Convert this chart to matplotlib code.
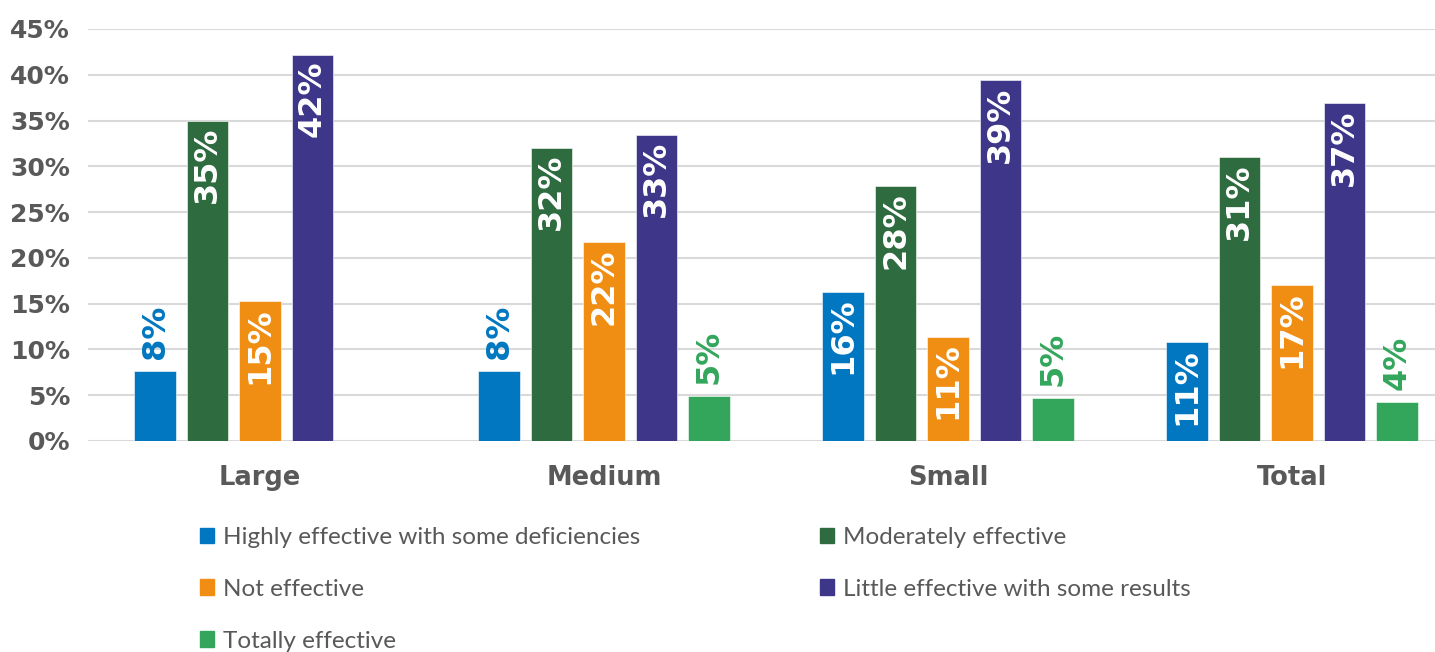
import matplotlib.pyplot as plt
import numpy as np
from matplotlib.patches import Patch

# --- Data ---
categories = ["Large", "Medium", "Small", "Total"]
series = [
    "Highly effective with some deficiencies",
    "Moderately effective",
    "Not effective",
    "Little effective with some results",
    "Totally effective",
]
highly = [7.7, 7.7, 16.3, 10.8]
moderately = [35.0, 32.0, 27.8, 31.0]
not_eff = [15.3, 21.7, 11.4, 17.0]
little = [42.2, 33.4, 39.4, 36.9]
totally = [0.0, 4.9, 4.7, 4.3]
yticks = [0, 5, 10, 15, 20, 25, 30, 35, 40, 45]

colors = ["#0077C0", "#2E6B3F", "#F08E13", "#3D3689", "#33A65C"]
values = [highly, moderately, not_eff, little, totally]

GRAY = "#595959"
W, H = 1435, 652

fig = plt.figure(figsize=(W / 100, H / 100), dpi=100)
ax = fig.add_axes([88 / W, (H - 441) / H, 1 - 88 / W, 412 / H])

x = np.arange(len(categories))
step = 0.1526
width = 0.122

for j, (vals, col) in enumerate(zip(values, colors)):
    pos = x + (j - 2) * step
    ax.bar(pos, vals, width, color=col, zorder=3, edgecolor="white", linewidth=0.4)
    for xi, v in zip(pos, vals):
        if v <= 0:
            continue
        lbl = f"{round(v)}%"
        if v < 10:
            ax.annotate(lbl, (xi, v), xytext=(0, 12), textcoords="offset pixels",
                        rotation=90, ha="center", va="bottom", color=col,
                        fontsize=23, fontweight="bold", zorder=4)
        else:
            ax.annotate(lbl, (xi, v), xytext=(0, -6), textcoords="offset pixels",
                        rotation=90, ha="center", va="top", color="white",
                        fontsize=23, fontweight="bold", zorder=4)

ax.set_xlim(-0.5, (1435 - 260) / 344)
ax.set_ylim(0, 45)
ax.set_yticks(yticks)
ax.set_yticklabels([f"{t}%" for t in yticks])
ax.set_xticks(x)
ax.set_xticklabels(categories)
ax.yaxis.grid(True, color="#D9D9D9", linewidth=1.5, zorder=0)
ax.set_axisbelow(True)
for s in ax.spines.values():
    s.set_visible(False)
ax.tick_params(axis="both", length=0, colors=GRAY, labelsize=18)
ax.tick_params(axis="y", pad=13)
ax.tick_params(axis="x", pad=17, labelsize=18.5)
for t in ax.get_xticklabels() + ax.get_yticklabels():
    t.set_fontweight("bold")

# legend, laid out as two columns in row order
handles = [Patch(color=c) for c in colors]
leg_kw = dict(frameon=False, handlelength=0.6, handleheight=0.6,
              handletextpad=0.35, labelspacing=1.27, labelcolor=GRAY,
              prop={"family": ["Lato", "DejaVu Sans"], "size": 17.5})
leg1 = fig.legend([handles[0], handles[2], handles[4]],
                  [series[0], series[2], series[4]],
                  loc="upper left", bbox_to_anchor=(178 / W, (H - 505) / H), **leg_kw)
leg2 = fig.legend([handles[1], handles[3]], [series[1], series[3]],
                  loc="upper left", bbox_to_anchor=(798 / W, (H - 505) / H), **leg_kw)

fig.savefig("out.png", dpi=100)
